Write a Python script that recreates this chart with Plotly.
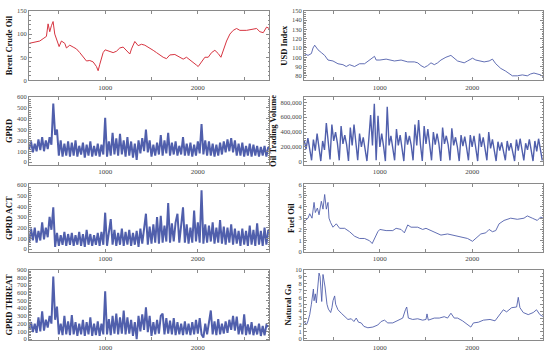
import plotly.graph_objects as go

# ---------------- data ----------------
BRENT_X = [180, 222, 294, 330, 366, 384, 402, 420, 438, 456, 474, 503, 528, 564, 582, 618, 654, 690, 726, 762, 798, 834,
           870, 906, 924, 942, 978, 1000, 1050, 1086, 1122, 1158, 1194, 1230, 1266, 1284, 1320, 1356, 1392, 1428, 1482,
           1518, 1554, 1590, 1626, 1662, 1698, 1752, 1806, 1842, 1878, 1914, 1950, 1986, 2004, 2040, 2076, 2112, 2148,
           2184, 2220, 2249, 2274, 2310, 2346, 2382, 2418, 2454, 2526, 2598, 2634, 2670, 2706, 2742, 2770]
BRENT = [80, 82, 85, 90, 95, 122, 105, 118, 127, 100, 90, 73, 85, 80, 70, 76, 72, 68, 60, 50, 42, 43,
         40, 30, 21, 35, 60, 66, 62, 60, 63, 70, 72, 65, 57, 68, 84, 75, 78, 76, 70,
         65, 60, 55, 50, 47, 55, 56, 50, 46, 50, 45, 40, 33, 30, 40, 50, 50, 60,
         65, 58, 50, 65, 85, 100, 108, 112, 108, 108, 110, 112, 105, 103, 115, 112]

USD_X = [180, 222, 258, 276, 294, 330, 366, 402, 438, 492, 546, 600, 636, 672, 726, 780, 834, 888, 924, 942, 960, 1000,
         1068, 1158, 1230, 1302, 1374, 1410, 1446, 1482, 1518, 1554, 1590, 1626, 1662, 1716, 1770, 1806, 1842, 1878,
         1914, 1950, 2004, 2040, 2076, 2130, 2184, 2220, 2256, 2310, 2364, 2400, 2436, 2490, 2544, 2598, 2634, 2670,
         2706, 2742, 2770]
USD = [104, 102, 104, 110, 113, 108, 105, 102, 97, 96, 93, 92, 90, 92, 90, 93, 93, 97, 100, 101, 97, 97,
       98, 96, 97, 95, 95, 94, 91, 89, 91, 94, 92, 94, 97, 100, 102, 99, 96, 95,
       94, 96, 99, 97, 96, 95, 96, 98, 93, 88, 85, 82, 80, 80, 81, 80, 82, 83,
       82, 81, 79]

FUEL_X = [180, 222, 240, 265, 287, 301, 323, 341, 366, 384, 402, 420, 438, 449, 467, 492, 528, 564, 618, 672, 726, 780,
          834, 888, 917, 942, 978, 1000, 1068, 1140, 1176, 1230, 1266, 1302, 1338, 1410, 1464, 1500, 1554, 1608, 1662,
          1734, 1788, 1842, 1896, 1950, 2004, 2040, 2094, 2148, 2184, 2220, 2256, 2292, 2346, 2418, 2490, 2562, 2598,
          2652, 2706, 2742, 2770]
FUEL = [2.7, 3.0, 3.4, 3.0, 4.4, 3.5, 3.9, 3.3, 4.5, 3.8, 5.1, 3.8, 4.4, 3.0, 2.6, 2.2, 2.5, 2.1, 2.1, 1.8, 1.4, 1.2,
        1.2, 1.0, 0.75, 1.2, 1.8, 2.0, 1.9, 1.9, 2.1, 2.0, 1.7, 2.4, 2.2, 2.2, 2.0, 2.1, 1.9, 1.7, 1.5,
        1.6, 1.5, 1.4, 1.3, 1.2, 0.95, 1.2, 1.6, 1.7, 2.0, 1.8, 1.9, 2.5, 2.8, 3.0, 2.9, 3.0, 3.2,
        3.0, 2.8, 3.1, 3.0]

GAS_X = [180, 204, 222, 240, 258, 269, 280, 287, 301, 312, 330, 341, 352, 362, 370, 384, 395, 406, 427, 442, 467, 481,
         492, 510, 521, 546, 582, 618, 654, 690, 719, 744, 769, 798, 827, 870, 924, 978, 1014, 1050, 1086, 1140, 1194,
         1248, 1277, 1291, 1309, 1356, 1410, 1464, 1500, 1511, 1525, 1590, 1644, 1698, 1734, 1770, 1806, 1842, 1896,
         1950, 1986, 2014, 2068, 2122, 2194, 2248, 2302, 2338, 2374, 2428, 2482, 2500, 2518, 2554, 2608, 2662, 2698,
         2734, 2770]
GAS = [2.5, 2.0, 2.6, 3.5, 5.0, 6.5, 7.2, 5.5, 6.5, 5.2, 8.0, 9.5, 9.0, 6.5, 5.4, 9.3, 8.5, 7.5, 5.0, 4.3, 3.8, 4.5,
       5.5, 6.2, 5.0, 4.2, 3.7, 3.2, 2.8, 2.9, 2.5, 3.0, 2.4, 2.3, 1.8, 1.6, 1.7, 2.0, 2.5, 2.7, 2.3, 2.3, 2.6,
       3.0, 4.2, 4.6, 3.0, 2.8, 2.9, 2.7, 2.8, 3.6, 2.7, 3.0, 3.0, 3.2, 3.0, 3.7, 3.0, 3.0, 2.6,
       2.0, 1.7, 2.3, 2.4, 2.7, 2.8, 2.6, 3.5, 4.2, 3.9, 4.5, 4.6, 6.0, 4.5, 3.8, 3.5, 3.8, 4.2,
       3.5, 3.2]

# noisy daily series, sampled every 20 observations starting at observation 180
NOISY_START = 180
NOISY_STEP = 20

GPRD = [120, 190, 90, 170, 100, 210, 110, 230, 100, 200, 120, 230, 160, 540, 250, 300, 60, 200, 50, 170,
        60, 190, 50, 180, 60, 200, 50, 150, 70, 180, 40, 160, 60, 190, 50, 150, 60, 170, 50, 160,
        70, 410, 50, 190, 60, 270, 70, 220, 60, 260, 70, 200, 50, 230, 60, 190, 40, 170, 20, 200,
        80, 220, 100, 300, 90, 200, 50, 160, 60, 180, 70, 250, 60, 200, 80, 270, 60, 180, 70, 190,
        60, 150, 70, 230, 60, 170, 60, 180, 50, 160, 60, 190, 80, 350, 70, 200, 60, 190, 60, 170,
        50, 160, 60, 180, 70, 190, 90, 210, 100, 220, 90, 200, 60, 170, 60, 180, 50, 150, 60, 170,
        50, 160, 60, 150, 50, 140, 60, 150, 50, 140]

VOLUME = [290000, 170000, 320000, 160000, 20000, 300000, 150000, 380000, 170000, 10000,
          280000, 160000, 520000, 300000, 30000, 500000, 280000, 400000, 250000, 20000,
          480000, 240000, 360000, 230000, 10000, 460000, 220000, 500000, 240000, 20000,
          380000, 200000, 330000, 180000, 10000, 300000, 630000, 220000, 780000, 20000,
          620000, 200000, 380000, 210000, 10000, 740000, 220000, 350000, 200000, 20000,
          440000, 220000, 360000, 200000, 10000, 400000, 230000, 350000, 220000, 20000,
          500000, 220000, 560000, 230000, 10000, 480000, 240000, 440000, 250000, 20000,
          400000, 230000, 380000, 240000, 10000, 460000, 240000, 350000, 230000, 20000,
          450000, 220000, 330000, 200000, 10000, 360000, 210000, 340000, 190000, 20000,
          360000, 200000, 350000, 190000, 10000, 380000, 200000, 330000, 180000, 20000,
          400000, 180000, 300000, 160000, 10000, 270000, 150000, 260000, 140000, 20000,
          280000, 150000, 250000, 140000, 10000, 300000, 150000, 310000, 140000, 20000,
          250000, 160000, 300000, 150000, 10000, 280000, 140000, 310000, 160000, 20000]

GPRD_ACT = [60, 190, 80, 200, 60, 170, 80, 250, 90, 200, 110, 300, 180, 390, 20, 150, 30, 130, 40, 160,
            30, 140, 40, 150, 30, 130, 40, 160, 30, 140, 20, 180, 40, 140, 30, 130, 40, 150, 30, 160,
            40, 340, 30, 170, 280, 40, 180, 30, 150, 40, 190, 30, 160, 40, 180, 30, 150, 40, 170, 20,
            190, 50, 200, 330, 40, 210, 50, 230, 60, 300, 50, 310, 60, 220, 70, 430, 60, 240, 70, 250,
            330, 60, 220, 390, 60, 230, 50, 200, 60, 360, 70, 250, 60, 550, 50, 230, 60, 220, 70, 250,
            50, 200, 60, 270, 50, 210, 40, 200, 60, 230, 40, 190, 50, 170, 30, 190, 40, 170, 30, 220,
            40, 180, 30, 240, 40, 170, 30, 200, 40, 180]

GPRD_THREAT = [120, 220, 90, 200, 80, 280, 100, 360, 110, 250, 150, 300, 200, 810, 250, 420, 60, 200, 50, 300,
               60, 230, 50, 310, 60, 220, 40, 200, 60, 250, 40, 220, 60, 280, 40, 200, 50, 230, 40, 200,
               60, 620, 60, 260, 50, 300, 70, 330, 60, 280, 70, 370, 60, 280, 70, 250, 40, 220, 0, 300,
               100, 320, 120, 410, 90, 300, 40, 220, 60, 250, 70, 300, 330, 60, 270, 70, 240, 60, 270, 50,
               220, 60, 200, 50, 230, 60, 200, 50, 220, 60, 250, 70, 270, 60, 20, 200, 60, 240, 370, 60,
               230, 50, 260, 60, 200, 70, 230, 80, 250, 120, 300, 110, 290, 60, 200, 60, 320, 50, 190, 60,
               220, 50, 170, 60, 200, 40, 170, 50, 180, 160]

X_TICKS = [1000, 2000]
X_RANGE = [178, 2768]

RED = "rgb(214,52,64)"
BLUE = "rgb(80,95,172)"

noisy_x = lambda n: [NOISY_START + NOISY_STEP * i for i in range(n)]
# (row, col, title, x, y, color, y-range, y-ticks, tickformat, minor dtick, line width)
panels = [
    (1, 1, "Brent Crude Oil", BRENT_X, BRENT, RED, [0, 150], [0, 50, 100, 150], None, 10, 1.0),
    (1, 2, "USD Index", USD_X, USD, BLUE, [75, 150], [80, 90, 100, 110, 120, 130, 140, 150], None, 2, 0.9),
    (2, 1, "GPRD", noisy_x(len(GPRD)), GPRD, BLUE, [-25, 600], [0, 100, 200, 300, 400, 500, 600], None, 20, 2.0),
    (2, 2, "Oil Trading Volume", noisy_x(len(VOLUME)), VOLUME, BLUE, [-40000, 870000],
     [0, 200000, 400000, 600000, 800000], ",", 40000, 1.4),
    (3, 1, "GPRD ACT", noisy_x(len(GPRD_ACT)), GPRD_ACT, BLUE, [-28, 605], [0, 100, 200, 300, 400, 500, 600], None, 20, 2.0),
    (3, 2, "Fuel Oil", FUEL_X, FUEL, BLUE, [0, 6], [0, 1, 2, 3, 4, 5, 6], None, 0.2, 0.9),
    (4, 1, "GPRD THREAT", noisy_x(len(GPRD_THREAT)), GPRD_THREAT, BLUE, [-15, 900],
     [0, 100, 200, 300, 400, 500, 600, 700, 800, 900], None, 20, 2.0),
    (4, 2, "Natural Ga", GAS_X, GAS, BLUE, [-0.2, 10], [0, 1, 2, 3, 4, 5, 6, 7, 8, 9, 10], None, 0.5, 0.9),
]

W, H = 550, 354
col_dom = {1: [29 / W, 269 / W], 2: [304 / W, 543 / W]}
row_px = {1: (7, 78), 2: (95, 164), 3: (184, 253), 4: (271, 343)}

fig = go.Figure()
layout = dict(
    width=W, height=H, margin=dict(l=0, r=0, t=0, b=0),
    paper_bgcolor="white", plot_bgcolor="white", showlegend=False,
    font=dict(family="Liberation Serif", size=7, color="#444"),
)

FRAME = "#8a8a8a"
for i, (r, c, title, xs, ys, color, yr, yt, fmt, ydm, lw) in enumerate(panels):
    k = i + 1
    suffix = "" if k == 1 else str(k)
    fig.add_trace(go.Scatter(x=xs, y=ys, mode="lines", line=dict(color=color, width=lw),
                             xaxis="x" + suffix, yaxis="y" + suffix, hoverinfo="skip"))
    top, bot = row_px[r]
    layout["xaxis" + suffix] = dict(
        domain=col_dom[c], anchor="y" + suffix, range=X_RANGE,
        tickvals=X_TICKS, ticktext=[str(v) for v in X_TICKS],
        showgrid=False, zeroline=False, showline=True, linecolor=FRAME, linewidth=1,
        mirror="allticks", ticks="inside", ticklen=3, tickcolor=FRAME,
        minor=dict(tickvals=[500, 1500, 2500], ticks="inside", ticklen=3, tickcolor=FRAME),
        tickfont=dict(size=7, color="#444", family="Liberation Serif"),
    )
    ydict = dict(
        domain=[1 - bot / H, 1 - top / H], anchor="x" + suffix, range=yr,
        tickvals=yt, showgrid=False, zeroline=False, showline=True, linecolor=FRAME, linewidth=1,
        mirror="allticks", ticks="inside", ticklen=3, tickcolor=FRAME,
        minor=dict(dtick=ydm, ticks="inside", ticklen=1.5, tickcolor=FRAME),
        tickfont=dict(size=6.5, color="#444", family="Liberation Serif"),
        title=dict(text=title, font=dict(size=8.5, color="#111", family="Liberation Serif",
                                         weight="bold"), standoff=2),
    )
    if fmt:
        ydict["tickformat"] = fmt
    layout["yaxis" + suffix] = ydict

fig.update_layout(**layout)

fig.write_html("out.html", config={"displayModeBar": False},
               post_script="document.body.style.margin='0';")
